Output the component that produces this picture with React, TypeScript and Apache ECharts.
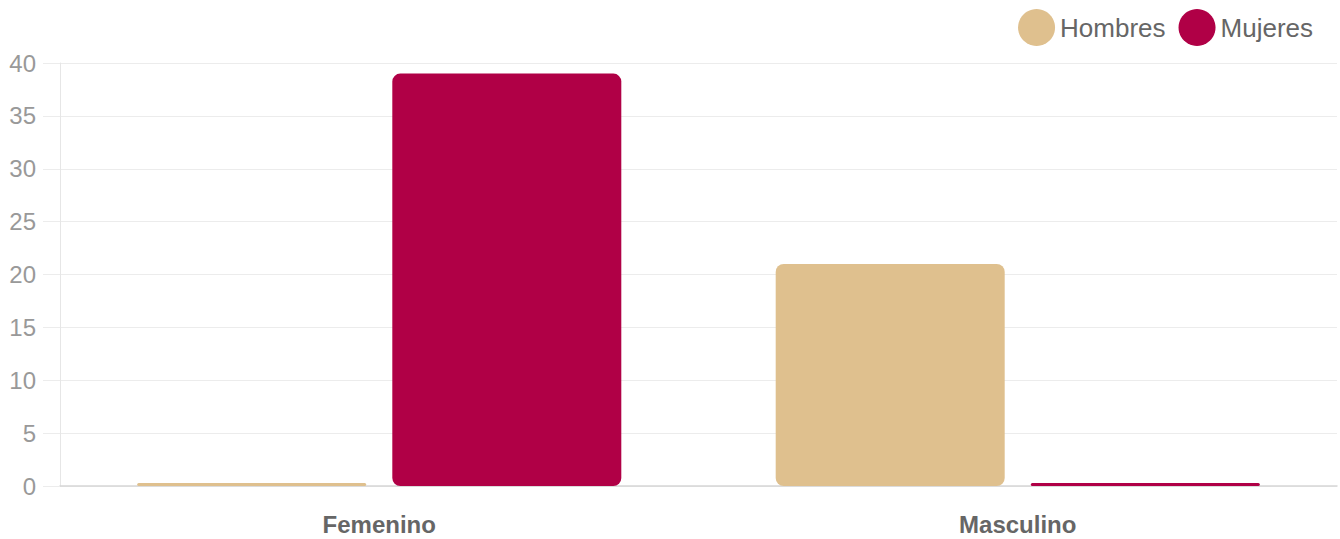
import React, { useEffect, useRef } from "react";
import * as echarts from "echarts";

const categories = ["Femenino", "Masculino"];
const hombres = [0, 21];
const mujeres = [39, 0];
const yTicks = { min: 0, max: 40, interval: 5 };

export default function App() {
  const ref = useRef<HTMLDivElement>(null);
  useEffect(() => {
    if (!ref.current) return;
    const chart = echarts.init(ref.current, undefined, { renderer: "svg" });
    const font = "'Liberation Sans', Arial, Helvetica, sans-serif";
    chart.setOption({
      animation: false,
      textStyle: { fontFamily: font },
      legend: {
        right: 22,
        top: 4,
        icon: "circle",
        itemWidth: 37,
        itemHeight: 37,
        itemGap: 13,
        textStyle: { fontSize: 26, color: "#666", fontFamily: font },
        data: ["Hombres", "Mujeres"],
      },
      grid: { left: 60, right: 3, top: 63, bottom: 53, containLabel: false },
      xAxis: {
        type: "category",
        data: categories,
        axisLine: { lineStyle: { color: "#d6d6d6", width: 1.5 } },
        axisTick: { show: false },
        axisLabel: { fontSize: 24, fontWeight: "bold", color: "#666", margin: 26, fontFamily: font },
      },
      yAxis: {
        type: "value",
        min: yTicks.min,
        max: yTicks.max,
        interval: yTicks.interval,
        axisLine: { show: true, lineStyle: { color: "#e6e6e6" } },
        axisTick: { show: true, length: 17, lineStyle: { color: "#ececec" } },
        splitLine: { lineStyle: { color: "#ececec" } },
        axisLabel: { fontSize: 24, color: "#999", margin: 24, fontFamily: font },
      },
      series: [
        {
          name: "Hombres",
          type: "bar",
          data: hombres,
          barWidth: 229,
          barGap: "11.4%",
          barMinHeight: 3,
          itemStyle: { color: "#dfc08e", borderRadius: 8 },
        },
        {
          name: "Mujeres",
          type: "bar",
          data: mujeres,
          barWidth: 229,
          barMinHeight: 3,
          itemStyle: { color: "#b00046", borderRadius: 8 },
        },
      ],
    });
    return () => chart.dispose();
  }, []);
  return (
    <div
      ref={ref}
      style={{ position: "fixed", left: 0, top: 0, width: 1340, height: 539, background: "#fff" }}
    />
  );
}
